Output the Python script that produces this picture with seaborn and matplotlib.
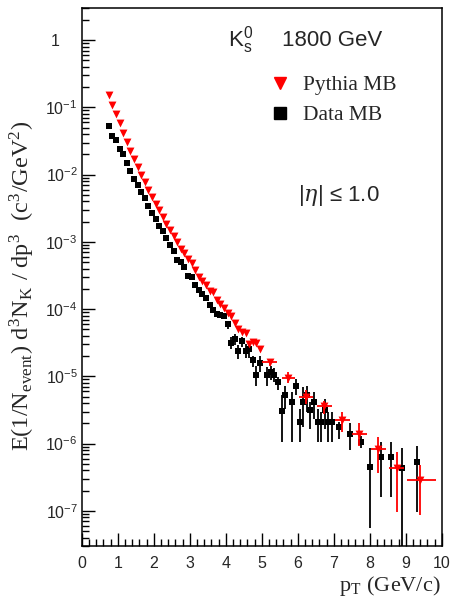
import numpy as np
import pandas as pd
import matplotlib
matplotlib.use('Agg')
import matplotlib.pyplot as plt
import seaborn as sns
from matplotlib.lines import Line2D
from matplotlib.ticker import FixedLocator, FixedFormatter, LogLocator, MultipleLocator, NullFormatter

# values, y given as log10 of the yield
data_pt = [0.75, 0.85, 0.95, 1.05, 1.15, 1.25, 1.35, 1.45, 1.55, 1.65, 1.75, 1.85,
           1.95, 2.05, 2.15, 2.25, 2.35, 2.45, 2.55, 2.65, 2.75, 2.85, 2.95, 3.05,
           3.15, 3.25, 3.35, 3.45, 3.55, 3.65, 3.75, 3.85, 3.95, 4.05, 4.15, 4.25,
           4.35, 4.45, 4.55, 4.65, 4.75, 4.85, 4.95, 5.15, 5.25, 5.35, 5.45, 5.55,
           5.65, 5.85, 5.95, 6.05, 6.15, 6.25, 6.35, 6.45, 6.55, 6.65, 6.75, 6.85,
           6.95, 7.15, 7.45, 7.75, 8.0, 8.3, 8.6, 8.9, 9.3]
data_logy = [-1.27, -1.42, -1.49, -1.62, -1.70, -1.83, -1.94, -2.06, -2.15, -2.26, -2.35, -2.46,
             -2.57, -2.66, -2.76, -2.84, -2.95, -3.05, -3.14, -3.27, -3.30, -3.37, -3.51, -3.53,
             -3.64, -3.71, -3.78, -3.84, -3.94, -4.01, -4.07, -4.09, -4.10, -4.22, -4.50, -4.44,
             -4.63, -4.48, -4.62, -4.60, -4.75, -4.98, -4.80, -4.98, -4.94, -4.98, -5.09, -5.51,
             -5.28, -5.38, -5.14, -5.68, -5.38, -5.28, -5.50, -5.38, -5.68, -5.68, -5.50, -5.68,
             -5.68, -5.76, -5.86, -5.98, -6.35, -6.20, -6.20, -6.37, -6.28]
# error bar ends (log10) for the data points from pT = 4.05 on
data_err_hi = [-4.19, -4.42, -4.37, -4.54, -4.42, -4.52, -4.54, -4.69, -4.84, -4.70,
               -4.86, -4.84, -4.88, -5.01, -5.28, -5.14,
               -5.23, -5.04, -5.48, -5.16, -5.15, -5.38, -5.23, -5.48, -5.53, -5.33, -5.53, -5.53,
               -5.68, -5.70, -5.88, -6.07, -5.97, -5.97, -6.06, -6.03]
data_err_lo = [-4.30, -4.59, -4.54, -4.74, -4.57, -4.72, -4.72, -4.86, -5.14, -4.94,
               -5.14, -5.06, -5.09, -5.21, -5.98, -5.48,
               -5.98, -5.28, -5.98, -5.75, -5.53, -5.78, -5.63, -5.98, -5.98, -5.78, -5.98, -5.98,
               -5.93, -6.10, -6.07, -7.26, -6.79, -6.79, -8.00, -7.02]

pythia_pt = [0.75, 0.85, 0.95, 1.05, 1.15, 1.25, 1.35, 1.45, 1.55, 1.65, 1.75, 1.85,
             1.95, 2.05, 2.15, 2.25, 2.35, 2.45, 2.55, 2.65, 2.75, 2.85, 2.95, 3.05,
             3.15, 3.25, 3.35, 3.45, 3.55, 3.65, 3.75, 3.85, 3.95, 4.05, 4.15, 4.25,
             4.35, 4.45, 4.55, 4.65, 4.75, 4.85, 4.95,
             5.23, 5.74, 6.23, 6.72, 7.23, 7.71, 8.24, 8.75, 9.40]
pythia_logy = [-0.815, -0.963, -1.10, -1.24, -1.38, -1.52, -1.65, -1.77, -1.89, -2.00, -2.11, -2.23,
               -2.34, -2.43, -2.53, -2.63, -2.73, -2.83, -2.91, -3.00, -3.10, -3.16, -3.25, -3.32,
               -3.42, -3.52, -3.58, -3.64, -3.73, -3.74, -3.86, -3.93, -3.99, -4.06, -4.11, -4.20,
               -4.30, -4.34, -4.36, -4.52, -4.49, -4.50, -4.60,
               -4.78, -5.02, -5.31, -5.44, -5.65, -5.86, -6.08, -6.37, -6.54]
# wide bins at high pT (last 9 Pythia points)
pythia_bin_lo = [5.00, 5.56, 6.04, 6.53, 7.04, 7.50, 8.04, 8.54, 9.04]
pythia_bin_hi = [5.42, 5.92, 6.43, 6.94, 7.45, 7.93, 8.45, 8.95, 9.84]
pythia_err_hi = [-4.74, -4.93, -5.21, -5.36, -5.53, -5.70, -5.90, -6.12, -6.32]
pythia_err_lo = [-4.84, -5.10, -5.41, -5.56, -5.83, -6.03, -6.44, -7.01, -7.06]

df_data = pd.DataFrame({"pT": data_pt, "y": 10 ** np.array(data_logy)})
df_pythia = pd.DataFrame({"pT": pythia_pt, "y": 10 ** np.array(pythia_logy)})

sns.set_style("white")
plt.rcParams['font.family'] = ['Liberation Sans', 'DejaVu Sans']
plt.rcParams['mathtext.fontset'] = 'custom'
plt.rcParams['mathtext.rm'] = 'Liberation Sans'

fig = plt.figure(figsize=(4.5, 6.02), dpi=100)
ax = fig.add_axes([0.182, 0.093, 0.7996, 0.8937])

# data: black squares + error bars
sns.scatterplot(data=df_data, x="pT", y="y", marker="s", color="black", s=24,
                linewidth=0, ax=ax, zorder=3)
d_err = df_data.iloc[len(data_pt) - len(data_err_hi):]
ax.errorbar(d_err["pT"], d_err["y"],
            yerr=[d_err["y"] - 10 ** np.array(data_err_lo), 10 ** np.array(data_err_hi) - d_err["y"]],
            xerr=0.05, fmt="none", ecolor="black", elinewidth=1.3, capsize=0, zorder=2)

# pythia: red triangles + error bars on wide bins
sns.scatterplot(data=df_pythia, x="pT", y="y", marker="v", color="red", s=32,
                linewidth=0, ax=ax, zorder=4)
p_err = df_pythia.iloc[len(pythia_pt) - len(pythia_bin_lo):]
ax.errorbar(p_err["pT"], p_err["y"],
            yerr=[p_err["y"] - 10 ** np.array(pythia_err_lo), 10 ** np.array(pythia_err_hi) - p_err["y"]],
            xerr=[p_err["pT"] - np.array(pythia_bin_lo), np.array(pythia_bin_hi) - p_err["pT"]],
            fmt="none", ecolor="red", elinewidth=1.3, capsize=0, zorder=4)

ax.set_yscale("log")
ax.set_xlim(0, 10)
ax.set_ylim(3e-8, 3)

ax.xaxis.set_major_locator(MultipleLocator(1))
ax.xaxis.set_minor_locator(MultipleLocator(0.2))
dec = [1e-7, 1e-6, 1e-5, 1e-4, 1e-3, 1e-2, 1e-1, 1]
dec_labels = [r"$\mathregular{10^{-7}}$", r"$\mathregular{10^{-6}}$", r"$\mathregular{10^{-5}}$",
              r"$\mathregular{10^{-4}}$", r"$\mathregular{10^{-3}}$", r"$\mathregular{10^{-2}}$",
              r"$\mathregular{10^{-1}}$", "1    "]
ax.yaxis.set_major_locator(FixedLocator(dec))
ax.yaxis.set_major_formatter(FixedFormatter(dec_labels))
ax.yaxis.set_minor_locator(LogLocator(base=10, subs=np.arange(2, 10), numticks=20))
ax.yaxis.set_minor_formatter(NullFormatter())

ax.tick_params(axis="both", which="both", direction="in", top=False, right=False,
               left=True, bottom=True, color="black", width=1.0, labelsize=11.5)
ax.tick_params(axis="both", which="major", length=9.5)
ax.tick_params(axis="both", which="minor", length=5)
ax.tick_params(axis="x", which="major", pad=7)
ax.tick_params(axis="y", which="major", pad=3)
for sp in ax.spines.values():
    sp.set_color("black")
    sp.set_linewidth(1.1)

ax.set_xlabel("")
ax.set_ylabel("")
serif = ["Liberation Serif", "DejaVu Serif"]
fig.text(0.98, 0.018, r"p$_{\mathregular{T}}$ (GeV/c)", ha="right", va="baseline",
         fontsize=16, family=serif, math_fontfamily="stix")
fig.text(0.05, 0.525, r"E(1/N$_{\mathregular{event}}$) d$^{\mathregular{3}}$N$_{\mathregular{K}}$ / dp$^{\mathregular{3}}$  (c$^{\mathregular{3}}$/GeV$^{\mathregular{2}}$)",
         rotation=90, ha="center", va="center", fontsize=17.5, family=serif, math_fontfamily="stix")

ax.text(0.405, 0.94, r"$\mathregular{K^0_s}$", transform=ax.transAxes, ha="left", va="center",
        fontsize=16)
ax.text(0.556, 0.94, "1800 GeV", transform=ax.transAxes, ha="left", va="center", fontsize=16)
ax.text(0.60, 0.652, r"|$\eta$| ≤ 1.0", transform=ax.transAxes, ha="left", va="center",
        fontsize=16, math_fontfamily="dejavuserif")

handles = [Line2D([], [], marker="v", color="red", linestyle="none", markersize=9),
           Line2D([], [], marker="s", color="black", linestyle="none", markersize=8)]
ax.legend(handles, ["Pythia MB", "Data MB"], loc="upper left", bbox_to_anchor=(0.52, 0.875),
          frameon=False, prop={"family": serif, "size": 15.5}, handlelength=1.0,
          handletextpad=0.6, borderpad=0, borderaxespad=0, labelspacing=0.45)

fig.savefig("out.png", dpi=100)
